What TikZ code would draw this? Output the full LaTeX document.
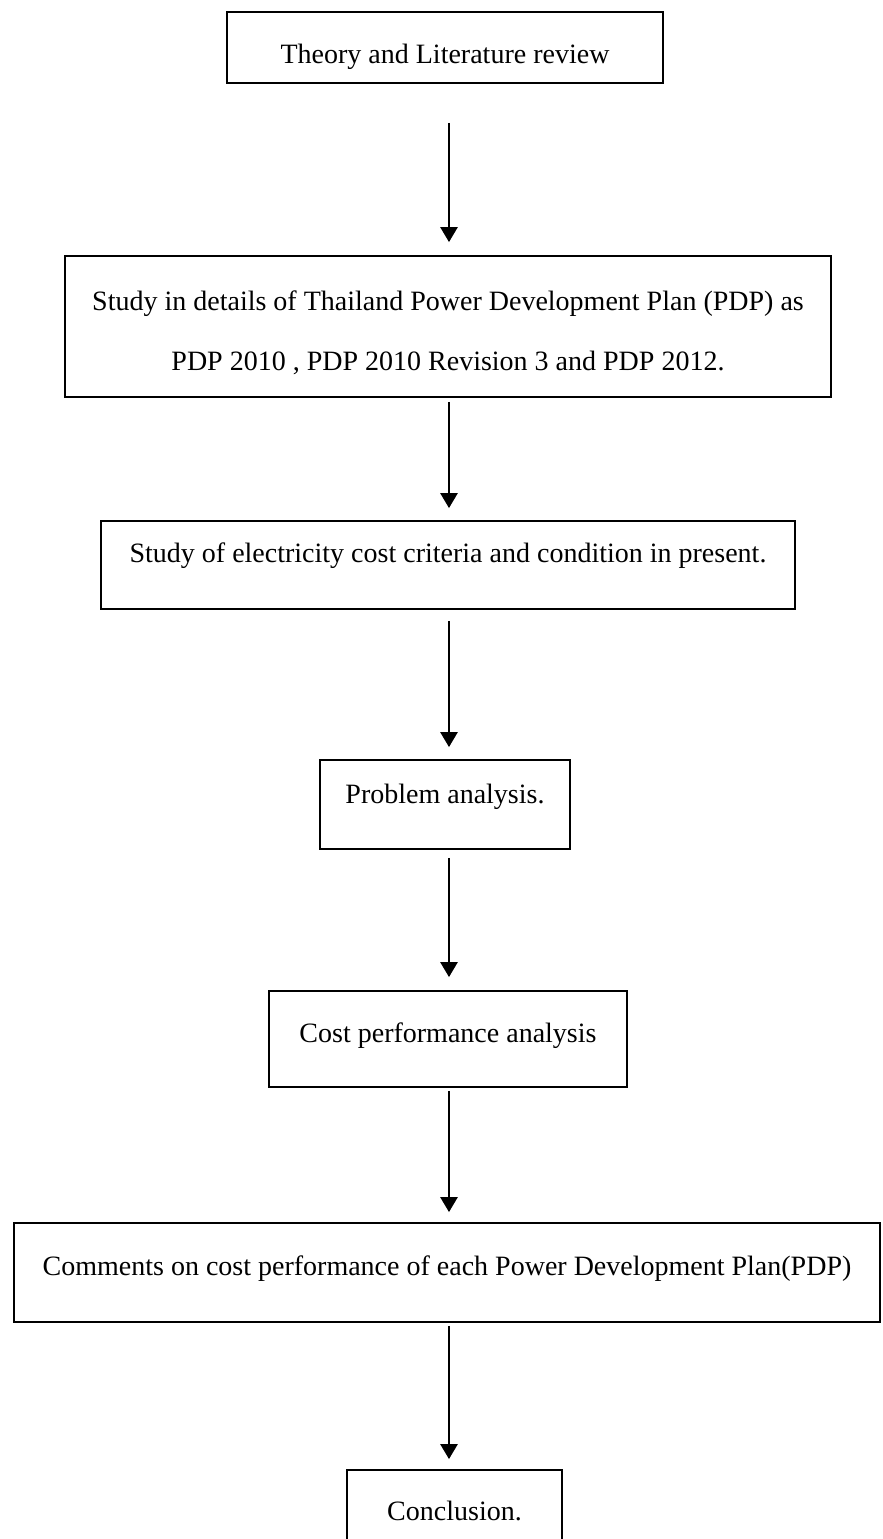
\documentclass[tikz,border=0pt]{standalone}
\usepackage{fontspec}
\setmainfont{Liberation Serif}
\usetikzlibrary{arrows.meta}
\begin{document}
\begin{tikzpicture}[x=0.5pt,y=-0.5pt,
  stage/.style={draw,line width=0.9pt,inner sep=0pt,font=\fontsize{14pt}{17pt}\selectfont},
  flow/.style={-{Triangle[width=8.5pt,length=7.5pt]},line width=1.3pt}]
  \useasboundingbox (0,0) rectangle (883,1539);
  \coordinate (axis) at (449,0);
  \node (theory) at (445,47.5) [stage,minimum width=218pt,minimum height=35.5pt,text height=15.5pt,text depth=0pt] {Theory and Literature review};
  \node (pdp) at (448,326.5) [stage,minimum width=383pt,minimum height=70.5pt,text height=0pt,text depth=16.5pt] {\begin{tabular}[t]{@{}c@{}}Study in details of Thailand Power Development Plan (PDP) as \\[13pt] PDP 2010 , PDP 2010 Revision 3 and PDP 2012.\end{tabular}};
  \node (cost) at (448,565) [stage,minimum width=347pt,minimum height=44pt,text height=0pt,text depth=3pt] {Study of electricity cost criteria and condition in present.};
  \node (problem) at (445,804.5) [stage,minimum width=125pt,minimum height=44.5pt,text height=0pt,text depth=1.5pt] {Problem analysis.};
  \node (perf) at (448,1039) [stage,minimum width=179pt,minimum height=48pt,text height=3pt,text depth=0pt] {Cost performance analysis};
  \node (comments) at (447,1272.5) [stage,minimum width=433pt,minimum height=49.5pt,text height=2.5pt,text depth=0pt] {Comments on cost performance of each Power Development Plan(PDP)};
  \node (concl) at (454.5,1520) [stage,minimum width=107.5pt,minimum height=50pt,text height=0pt,text depth=0pt] {Conclusion.};
  \draw[flow,shorten <=19.5pt,shorten >=6.5pt] (theory.south -| axis) -- (pdp.north -| axis);
  \draw[flow,shorten <=2pt,shorten >=6pt] (pdp.south -| axis) -- (cost.north -| axis);
  \draw[flow,shorten <=5.5pt,shorten >=6pt] (cost.south -| axis) -- (problem.north -| axis);
  \draw[flow,shorten <=4pt,shorten >=6.5pt] (problem.south -| axis) -- (perf.north -| axis);
  \draw[flow,shorten <=1.5pt,shorten >=5pt] (perf.south -| axis) -- (comments.north -| axis);
  \draw[flow,shorten <=1.5pt,shorten >=5pt] (comments.south -| axis) -- (concl.north -| axis);
\end{tikzpicture}
\end{document}
